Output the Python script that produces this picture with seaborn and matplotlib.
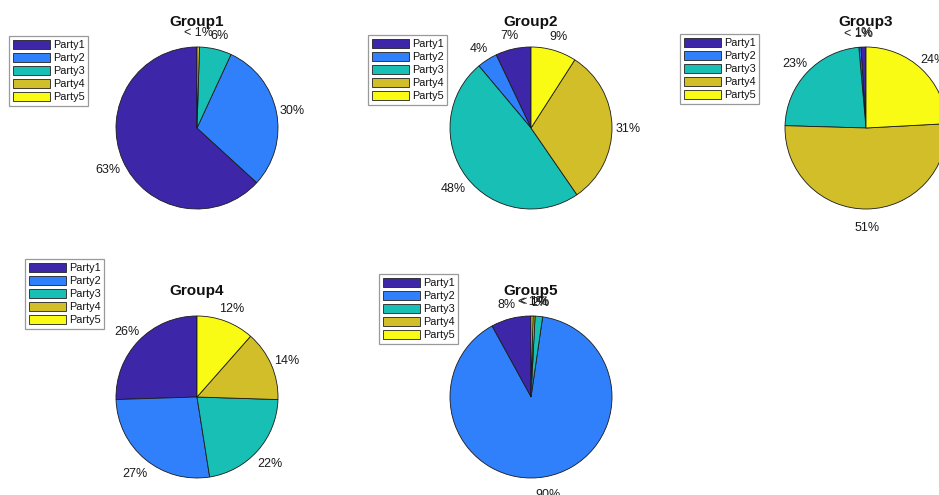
import matplotlib
matplotlib.use("Agg")
import matplotlib.pyplot as plt
import matplotlib.transforms as mtransforms
from matplotlib.patches import Patch
import seaborn as sns

sns.set_style("white")
plt.rcParams["font.family"] = ["Liberation Sans", "DejaVu Sans"]

# Party shares per group (fractions)
parties = ["Party1", "Party2", "Party3", "Party4", "Party5"]
groups = ["Group1", "Group2", "Group3", "Group4", "Group5"]
group1 = [0.632, 0.299, 0.064, 0.0049, 0.0]
group2 = [0.070, 0.040, 0.480, 0.310, 0.090]
group3 = [0.010, 0.004, 0.230, 0.510, 0.240]
group4 = [0.255, 0.270, 0.220, 0.140, 0.115]
group5 = [0.080, 0.897, 0.015, 0.004, 0.004]
shares = [group1, group2, group3, group4, group5]

colors = sns.color_palette(["#3E26A8", "#2F80FA", "#18BFB4", "#D2BE29", "#F9FB15"])

W, H = 939, 495
DPI = 100
fig = plt.figure(figsize=(W / DPI, H / DPI), dpi=DPI)

R = 81.0      # pie radius in pixels
HALF = 120.0  # half axes size in pixels
centers = [(197, 128), (531, 128), (866, 128), (197, 397), (531, 397)]
legend_tl = [(9, 36), (368, 35), (680, 34), (25, 259), (379, 274)]


def pct_label(v):
    if v == 0:
        return ""
    p = round(v * 100)
    return "< 1%" if p < 1 else f"{p}%"


handles = [Patch(facecolor=c, edgecolor="#222222", linewidth=0.6) for c in colors]
label_shift = mtransforms.ScaledTranslation(0, -2.5 / DPI, fig.dpi_scale_trans)

for name, vals, (cx, cy), (lx, ly) in zip(groups, shares, centers, legend_tl):
    ax = fig.add_axes([(cx - HALF) / W, (H - cy - HALF) / H, 2 * HALF / W, 2 * HALF / H])
    wedges, texts = ax.pie(
        vals,
        colors=colors,
        startangle=90,
        counterclock=True,
        labels=[pct_label(v) for v in vals],
        labeldistance=1.2,
        wedgeprops=dict(edgecolor="#1a1a1a", linewidth=0.6),
        textprops=dict(fontsize=9, color="#1a1a1a"),
        normalize=True,
    )
    for w, v in zip(wedges, vals):
        if v == 0:
            w.set_visible(False)
    for t in texts:
        t.set_horizontalalignment("center")
        t.set_verticalalignment("center")
        t.set_transform(t.get_transform() + label_shift)
        t.set_clip_on(False)
    lim = HALF / R
    ax.set_xlim(-lim, lim)
    ax.set_ylim(-lim, lim)
    ax.set_aspect("equal")
    ax.axis("off")
    ax.text(0, 1.31, name, ha="center", va="center", fontsize=11,
            fontweight="bold", color="#111111")

    leg = fig.legend(
        handles, parties,
        loc="upper left",
        bbox_to_anchor=(lx / W, 1 - ly / H),
        bbox_transform=fig.transFigure,
        borderaxespad=0,
        fontsize=7.8,
        handlelength=3.4,
        handleheight=1.0,
        handletextpad=0.3,
        labelspacing=0.22,
        borderpad=0.35,
        fancybox=False,
        framealpha=1,
        edgecolor="#999999",
    )
    leg.get_frame().set_linewidth(0.9)
    for txt in leg.get_texts():
        txt.set_color("#111111")

fig.savefig("out.png", dpi=DPI, facecolor="white")
